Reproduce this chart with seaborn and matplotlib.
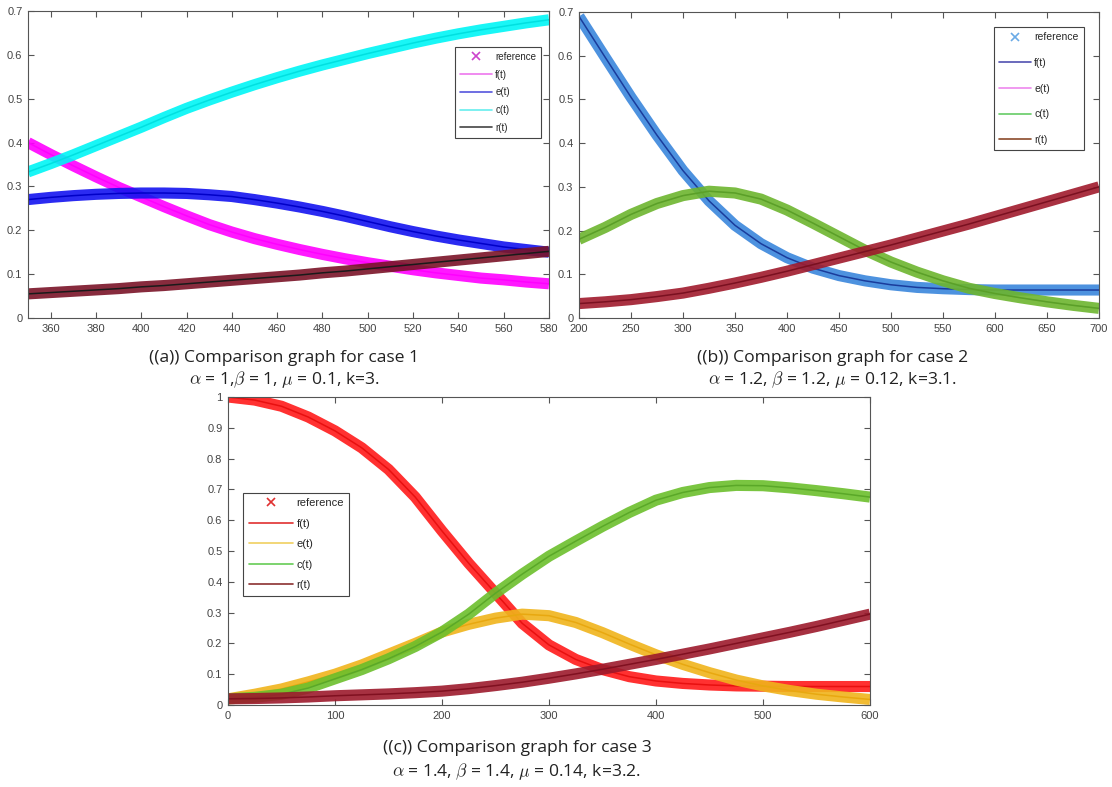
import numpy as np
import pandas as pd
import matplotlib
matplotlib.use("Agg")
import matplotlib.pyplot as plt
import seaborn as sns
from matplotlib.lines import Line2D

sns.set_style("ticks")
plt.rcParams['font.family'] = ['Liberation Sans', 'DejaVu Sans']
plt.rcParams['mathtext.fontset'] = 'cm'

# ---- case 1 -------------------------------------------------------------
t1 = [350, 360, 370, 380, 390, 400, 410, 420, 430, 440, 450, 460,
      470, 480, 490, 500, 510, 520, 530, 540, 550, 560, 570, 580]
f1 = [0.400, 0.373, 0.347, 0.322, 0.298, 0.276, 0.254, 0.233, 0.213, 0.196, 0.181, 0.168,
      0.156, 0.145, 0.135, 0.126, 0.118, 0.110, 0.103, 0.097, 0.091, 0.087, 0.082, 0.078]
e1 = [0.270, 0.275, 0.279, 0.282, 0.284, 0.285, 0.285, 0.284, 0.281, 0.277, 0.270, 0.262,
      0.253, 0.243, 0.232, 0.220, 0.208, 0.197, 0.187, 0.178, 0.170, 0.162, 0.156, 0.150]
c1 = [0.333, 0.352, 0.372, 0.393, 0.414, 0.435, 0.457, 0.478, 0.497, 0.515, 0.532, 0.548,
      0.563, 0.577, 0.590, 0.603, 0.615, 0.627, 0.638, 0.648, 0.657, 0.665, 0.673, 0.680]
r1 = [0.055, 0.058, 0.061, 0.064, 0.067, 0.071, 0.074, 0.078, 0.082, 0.086, 0.090, 0.094,
      0.098, 0.103, 0.107, 0.112, 0.117, 0.122, 0.127, 0.132, 0.137, 0.142, 0.147, 0.152]

# ---- case 2 -------------------------------------------------------------
t2 = [200, 225, 250, 275, 300, 325, 350, 375, 400, 425, 450,
      475, 500, 525, 550, 575, 600, 625, 650, 675, 700]
f2 = [0.690, 0.597, 0.505, 0.418, 0.337, 0.268, 0.212, 0.170, 0.138, 0.114, 0.097,
      0.085, 0.076, 0.070, 0.067, 0.065, 0.064, 0.064, 0.064, 0.064, 0.064]
c2 = [0.180, 0.207, 0.237, 0.262, 0.280, 0.290, 0.286, 0.272, 0.247, 0.217, 0.186,
      0.155, 0.128, 0.105, 0.085, 0.068, 0.056, 0.046, 0.037, 0.029, 0.022]
r2 = [0.033, 0.037, 0.042, 0.049, 0.057, 0.068, 0.080, 0.093, 0.107, 0.122, 0.137,
      0.152, 0.167, 0.183, 0.199, 0.215, 0.232, 0.249, 0.266, 0.283, 0.300]

# ---- case 3 -------------------------------------------------------------
t3 = [0, 25, 50, 75, 100, 125, 150, 175, 200, 225, 250, 275, 300,
      325, 350, 375, 400, 425, 450, 475, 500, 525, 550, 575, 600]
f3 = [1.000, 0.990, 0.970, 0.935, 0.890, 0.835, 0.765, 0.675, 0.565, 0.460, 0.363, 0.265, 0.195,
      0.148, 0.115, 0.092, 0.078, 0.070, 0.065, 0.062, 0.061, 0.060, 0.060, 0.060, 0.060]
e3 = [0.020, 0.035, 0.052, 0.075, 0.100, 0.130, 0.165, 0.200, 0.237, 0.262, 0.282, 0.295, 0.290,
      0.268, 0.235, 0.198, 0.163, 0.132, 0.105, 0.081, 0.062, 0.047, 0.035, 0.026, 0.018]
c3 = [0.020, 0.025, 0.035, 0.055, 0.085, 0.115, 0.150, 0.190, 0.237, 0.295, 0.363, 0.425, 0.483,
      0.532, 0.580, 0.625, 0.665, 0.690, 0.706, 0.713, 0.712, 0.705, 0.696, 0.686, 0.675]
r3 = [0.020, 0.021, 0.023, 0.026, 0.030, 0.033, 0.036, 0.040, 0.045, 0.053, 0.063, 0.074, 0.087,
      0.101, 0.116, 0.132, 0.148, 0.165, 0.182, 0.200, 0.218, 0.236, 0.255, 0.275, 0.295]

labels = ['f(t)', 'e(t)', 'c(t)', 'r(t)']


def draw_curve(ax, t, y, band, line):
    # thick band standing in for the dense reference markers, model line on top
    sns.lineplot(x=t, y=y, ax=ax, color=band, lw=8, alpha=0.9,
                 solid_capstyle='butt', solid_joinstyle='round')
    sns.lineplot(x=t, y=y, ax=ax, color=line, lw=1.1)


def style_axes(ax, xlim, ylim, xticks, yticks):
    ax.set_xlim(xlim)
    ax.set_ylim(ylim)
    ax.set_xticks(xticks)
    ax.set_yticks(yticks)
    ax.set_xticklabels([f"{v:g}" for v in xticks])
    ax.set_yticklabels([f"{v:g}" for v in yticks])
    ax.tick_params(direction='in', length=4, width=0.8, top=True, right=True,
                   labelsize=8, labelcolor='#444444', color='#555555', pad=4)
    for s in ax.spines.values():
        s.set_color('#555555')
        s.set_linewidth(0.8)
    ax.set_xlabel('')
    ax.set_ylabel('')


def add_legend(ax, ref_color, line_colors, anchor, spacing, fs, hl):
    handles = [Line2D([], [], ls='none', marker='x', color=ref_color, ms=5.5, mew=1.2)]
    handles += [Line2D([], [], color=c, lw=1.2) for c in line_colors]
    leg = ax.legend(handles, ['reference'] + labels, loc='upper right',
                    bbox_to_anchor=anchor, bbox_transform=ax.figure.transFigure,
                    fontsize=fs, frameon=True, fancybox=False, framealpha=1,
                    edgecolor='#444444', labelspacing=spacing, handlelength=hl,
                    borderpad=0.5, handletextpad=0.3)
    leg.get_frame().set_linewidth(0.8)


W, H = 1112, 787
fig = plt.figure(figsize=(W / 100, H / 100), dpi=100)


def px_axes(l, t, r, b):
    return fig.add_axes([l / W, 1 - b / H, (r - l) / W, (b - t) / H])


# case 1
ax1 = px_axes(28, 11, 549, 318)
draw_curve(ax1, t1, f1, '#ff00ff', '#ff00ff')
draw_curve(ax1, t1, e1, '#1414f0', '#0000c8')
draw_curve(ax1, t1, c1, '#00f5f5', '#00e0e0')
draw_curve(ax1, t1, r1, '#7a1428', '#1a1a1a')
style_axes(ax1, (350, 580), (0, 0.7), list(range(360, 581, 20)),
           [0, 0.1, 0.2, 0.3, 0.4, 0.5, 0.6, 0.7])
add_legend(ax1, '#cc44cc', ['#ee77ee', '#5555dd', '#66eeee', '#444444'],
           (546 / W, 1 - 42 / H), 0.8, 7, 3.3)

# case 2
ax2 = px_axes(579, 12, 1099, 318)
sns.lineplot(x=t2, y=c2, ax=ax2, color='#ee88ee', lw=1.0)
draw_curve(ax2, t2, f2, '#3a86dc', '#1a3c9c')
draw_curve(ax2, t2, c2, '#6db52e', '#5aa028')
draw_curve(ax2, t2, r2, '#a01a2c', '#7a1020')
style_axes(ax2, (200, 700), (0, 0.7), list(range(200, 701, 50)),
           [0, 0.1, 0.2, 0.3, 0.4, 0.5, 0.6, 0.7])
add_legend(ax2, '#6aaae6', ['#5050b0', '#ee88ee', '#66cc66', '#8b4a2a'],
           (1089 / W, 1 - 22 / H), 1.5, 7.5, 3.1)

# case 3
ax3 = px_axes(228, 397, 870, 705)
draw_curve(ax3, t3, f3, '#ff1a1a', '#e81010')
draw_curve(ax3, t3, e3, '#f0b41c', '#e8a810')
draw_curve(ax3, t3, c3, '#6cbf2c', '#5aa828')
draw_curve(ax3, t3, r3, '#9c1a2c', '#801020')
style_axes(ax3, (0, 600), (0, 1), list(range(0, 601, 100)),
           [0, 0.1, 0.2, 0.3, 0.4, 0.5, 0.6, 0.7, 0.8, 0.9, 1])
add_legend(ax3, '#e03030', ['#e03030', '#f0d060', '#66cc55', '#8b3030'],
           (355 / W, 1 - 487 / H), 0.95, 8, 4.0)

# captions
cap = dict(ha='center', va='center', fontsize=12.6, color='#222222',
           family=['Open Sans', 'DejaVu Sans'])
fig.text(284 / W, 1 - 358 / H, '((a)) Comparison graph for case 1', **cap)
fig.text(284 / W, 1 - 380 / H, r'$\alpha$ = 1,$\beta$ = 1, $\mu$ = 0.1, k=3.', **cap)
fig.text(833 / W, 1 - 358 / H, '((b)) Comparison graph for case 2', **cap)
fig.text(833 / W, 1 - 380 / H, r'$\alpha$ = 1.2, $\beta$ = 1.2, $\mu$ = 0.12, k=3.1.', **cap)
fig.text(517 / W, 1 - 748 / H, '((c)) Comparison graph for case 3', **cap)
fig.text(517 / W, 1 - 771 / H, r'$\alpha$ = 1.4, $\beta$ = 1.4, $\mu$ = 0.14, k=3.2.', **cap)

fig.savefig('out.png', dpi=100)
